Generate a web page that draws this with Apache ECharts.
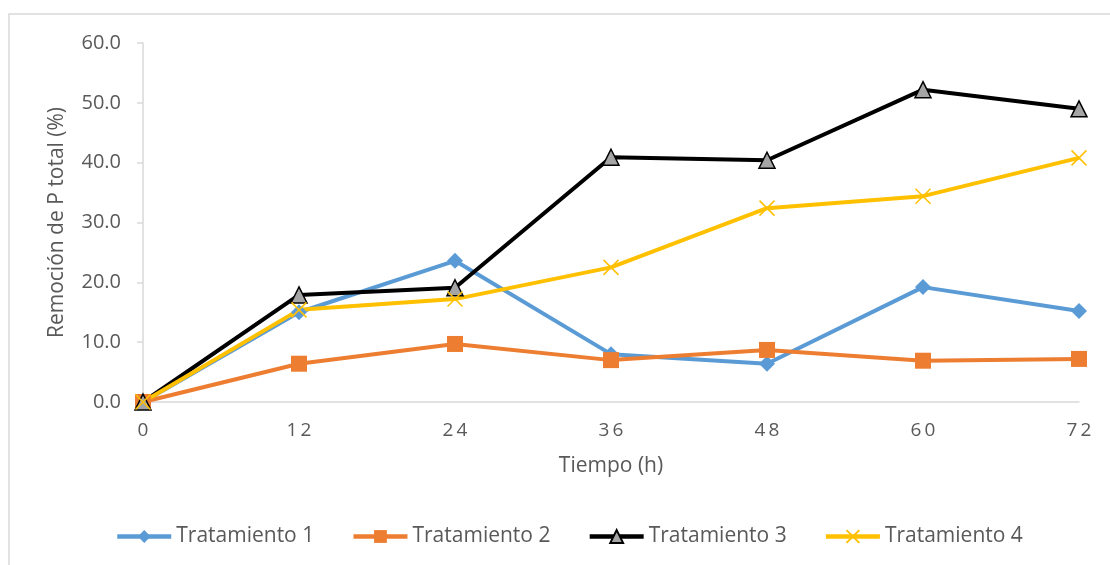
<!DOCTYPE html>
<html>
<head>
<meta charset="utf-8">
<script src="https://cdn.jsdelivr.net/npm/echarts@6/dist/echarts.min.js"></script>
<style>
  html, body { margin: 0; padding: 0; background: #ffffff; }
  #chart { width: 1110px; height: 565px; }
</style>
</head>
<body>
<div id="chart"></div>
<script>
// Sampling times (h)
const hours = [0, 12, 24, 36, 48, 60, 72];

// Total P removal (%) per treatment
const tratamiento1 = [0.0, 15.0, 23.6, 8.0, 6.4, 19.2, 15.2];
const tratamiento2 = [0.0, 6.4, 9.7, 7.0, 8.7, 6.9, 7.2];
const tratamiento3 = [0.0, 17.9, 19.1, 40.9, 40.4, 52.2, 49.0];
const tratamiento4 = [0.0, 15.4, 17.2, 22.5, 32.4, 34.4, 40.8];

const seriesNames = ['Tratamiento 1', 'Tratamiento 2', 'Tratamiento 3', 'Tratamiento 4'];

const yTicks = { min: 0, max: 60, step: 10 };
const xTicks = { min: 0, max: 72, step: 12 };

const pairs = vals => hours.map((h, i) => [h, vals[i]]);

const labelFont = '"Open Sans", "DejaVu Sans", sans-serif';
const crossPath = 'path://M0,0L10,10M10,0L0,10';

const chart = echarts.init(document.getElementById('chart'), null, { renderer: 'canvas' });

chart.setOption({
  backgroundColor: '#ffffff',
  animation: false,
  graphic: [{
    type: 'rect',
    shape: { x: 9, y: 14, width: 1200, height: 700 },
    style: { fill: 'none', stroke: '#d9d9d9', lineWidth: 1.5 },
    silent: true
  }],
  grid: { left: 143, right: 31, top: 43, bottom: 163 },
  legend: {
    data: seriesNames,
    top: 521,
    left: 110,
    itemWidth: 54,
    itemHeight: 16,
    itemGap: 37,
    lineStyle: { width: 4.5 },
    textStyle: { color: '#595959', fontSize: 21, fontFamily: labelFont }
  },
  xAxis: {
    type: 'value',
    min: xTicks.min,
    max: xTicks.max,
    interval: xTicks.step,
    name: 'Tiempo (h)',
    nameLocation: 'middle',
    nameGap: 54,
    nameTextStyle: { color: '#595959', fontSize: 21, fontFamily: labelFont },
    axisLine: { show: true, lineStyle: { color: '#d9d9d9', width: 1.5 } },
    axisTick: { show: false },
    splitLine: { show: false },
    axisLabel: {
      color: '#595959',
      fontSize: 19,
      fontFamily: labelFont,
      margin: 19,
      formatter: v => String(v).split('').join('\u2009')
    }
  },
  yAxis: {
    type: 'value',
    min: yTicks.min,
    max: yTicks.max,
    interval: yTicks.step,
    name: 'Remoción de P total (%)',
    nameLocation: 'middle',
    nameGap: 75,
    nameTextStyle: { color: '#595959', fontSize: 21, fontFamily: labelFont },
    axisLine: { show: true, lineStyle: { color: '#d9d9d9', width: 1.5 } },
    axisTick: { show: true, length: 6, lineStyle: { color: '#d9d9d9', width: 1.5 } },
    splitLine: { show: false },
    axisLabel: {
      color: '#595959',
      fontSize: 20,
      fontFamily: labelFont,
      margin: 22,
      formatter: v => v.toFixed(1)
    }
  },
  series: [
    {
      name: seriesNames[0],
      type: 'line',
      data: pairs(tratamiento1),
      symbol: 'diamond',
      symbolSize: 16,
      lineStyle: { color: '#5B9BD5', width: 4 },
      itemStyle: { color: '#5B9BD5' }
    },
    {
      name: seriesNames[1],
      type: 'line',
      data: pairs(tratamiento2),
      symbol: 'rect',
      symbolSize: 16,
      lineStyle: { color: '#ED7D31', width: 4 },
      itemStyle: { color: '#ED7D31' }
    },
    {
      name: seriesNames[2],
      type: 'line',
      data: pairs(tratamiento3),
      symbol: 'triangle',
      symbolSize: 16,
      lineStyle: { color: '#000000', width: 4 },
      itemStyle: { color: '#A5A5A5', borderColor: '#000000', borderWidth: 1.5 }
    },
    {
      name: seriesNames[3],
      type: 'line',
      data: pairs(tratamiento4),
      symbol: crossPath,
      symbolSize: 15,
      lineStyle: { color: '#FFC000', width: 4 },
      itemStyle: { color: '#FFC000', borderColor: '#FFC000', borderWidth: 1.5 }
    }
  ]
});
</script>
</body>
</html>
